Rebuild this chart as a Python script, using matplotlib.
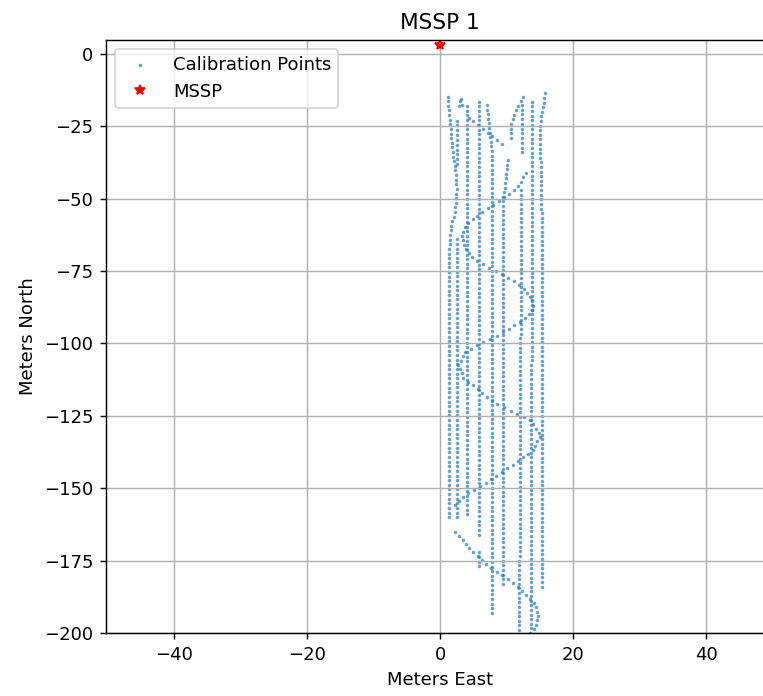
import numpy as np
import matplotlib
matplotlib.use("Agg")
import matplotlib.pyplot as plt

DPI = 130
FIG_W, FIG_H = 763, 696

# Sound-source position (metres east / north of the reference origin)
mssp_east = [0.0]
mssp_north = [3.0]

# Survey transects as (east, north) vertices in metres.  Calibration fixes
# were logged at a constant along-track interval on every transect.
transect_vertices = [
    # north-south lines
    [(1.2, -14.7), (1.3, -19), (1.5, -23), (1.9, -34), (2.3, -40), (2.5, -47),
     (2.3, -54), (1.6, -60), (1.5, -65), (1.35, -68), (1.35, -160)],
    [(2.5, -23), (2.5, -38)],
    [(2.5, -64), (2.5, -160)],
    [(2.9, -18), (3.1, -15), (3.3, -17.5)],
    [(4.1, -18), (4.0, -159)],
    [(5.9, -16.5), (5.9, -166)],
    [(5.9, -172), (5.9, -177)],
    [(7.0, -17.6), (7.8, -34), (7.8, -193)],
    [(10.2, -36.6), (9.5, -50), (9.5, -183)],
    [(10.7, -29), (10.7, -24), (11.3, -20), (12.5, -14.7)],
    [(12.3, -17.6), (12.3, -34)],
    [(12.2, -47), (11.9, -199)],
    [(13.9, -16.5), (13.6, -200)],
    [(15.8, -13.6), (15.0, -25), (15.3, -60), (15.3, -184)],
    # cross-track legs
    [(4.3, -22), (9.3, -31)],
    [(12.9, -41.2), (12.2, -44), (11.4, -46.4), (10.2, -48.5), (8.3, -51.6),
     (6.0, -55), (4.0, -59), (3.3, -62.5), (3.8, -67), (5.0, -70.6),
     (7.3, -73.7), (10.0, -77), (12.3, -80.4), (13.7, -84.4), (14.1, -87.5),
     (12.8, -91.3), (10.8, -94.2), (8.3, -97.7), (6.0, -100), (3.8, -102.8),
     (2.75, -107.4), (3.5, -112), (5.8, -116), (8.3, -120.7), (11.0, -123.6),
     (13.5, -126.4), (14.8, -130.5), (15.0, -132.2), (14.0, -136.8),
     (12.0, -140.2), (9.3, -144.3), (6.8, -148.3), (4.5, -151.2),
     (2.75, -154.6), (2.25, -155.8)],
    [(2.25, -165), (3.0, -166.7), (3.8, -169), (4.5, -171.3), (5.5, -173),
     (6.5, -175.4), (7.8, -177.7), (9.3, -180), (10.5, -181.7), (12.0, -184.6),
     (13.0, -186.9), (14.0, -189.2), (14.5, -191.5), (14.8, -194.4),
     (14.5, -196.7), (14.0, -199), (13.5, -200)],
]
fix_interval = [1.6] * 14 + [1.55, 1.5, 1.5]

x_ticks = [-40, -20, 0, 20, 40]
y_ticks = [0, -25, -50, -75, -100, -125, -150, -175, -200]


def fixes_along(vertices, step):
    """Positions logged every `step` metres along a transect."""
    v = np.asarray(vertices, dtype=float)
    seg = np.hypot(*np.diff(v, axis=0).T)
    dist = np.concatenate([[0.0], np.cumsum(seg)])
    n = max(int(round(dist[-1] / step)), 1) + 1
    d = np.linspace(0.0, dist[-1], n)
    return np.interp(d, dist, v[:, 0]), np.interp(d, dist, v[:, 1])


east_parts, north_parts = [], []
for verts, step in zip(transect_vertices, fix_interval):
    e, n = fixes_along(verts, step)
    east_parts.append(e)
    north_parts.append(n)
cal_east = np.concatenate(east_parts)
cal_north = np.concatenate(north_parts)

fig = plt.figure(figsize=(FIG_W / DPI, FIG_H / DPI), dpi=DPI)
# plot area: spans past the right-hand edge of the canvas
left, right = 106 / FIG_W, 774 / FIG_W
bottom, top = 1 - 633 / FIG_H, 1 - 39.5 / FIG_H
ax = fig.add_axes([left, bottom, right - left, top - bottom])

ax.scatter(cal_east, cal_north, s=1.5, linewidths=0.8, alpha=0.55, color="C0",
           label="Calibration Points")
ax.plot(mssp_east, mssp_north, "r*", label="MSSP")

ax.set_xlim(-50.2, 50.2)
ax.set_ylim(-200, 5)
ax.set_xticks(x_ticks)
ax.set_yticks(y_ticks)
ax.grid(True)
ax.set_xlabel("Meters East")
ax.set_ylabel("Meters North")
ax.set_title("MSSP 1")
ax.legend(loc="upper left")

fig.savefig("out.png", dpi=DPI)
